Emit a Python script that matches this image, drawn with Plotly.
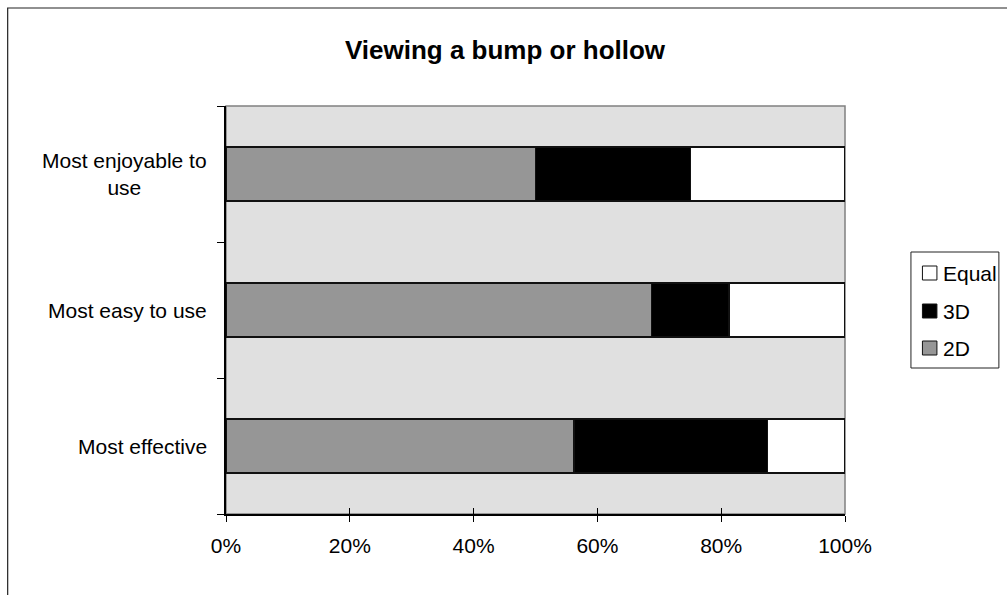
import plotly.graph_objects as go

# Survey results (percent of respondents)
categories = ["Most effective", "Most easy to use", "Most enjoyable to use"]
category_labels = ["Most effective", "Most easy to use", "Most enjoyable to<br>use"]
series_names = ["2D", "3D", "Equal"]
values_2d = [56.25, 68.75, 50.0]
values_3d = [31.25, 12.5, 25.0]
values_equal = [12.5, 18.75, 25.0]
x_ticks = [0, 20, 40, 60, 80, 100]

colors = {"2D": "#969696", "3D": "#000000", "Equal": "#FFFFFF"}
FONT = "Liberation Sans, Arial, sans-serif"

W, H = 1007, 595
L, R, T, B = 225.5, 845, 106, 514   # plot area in pixels


def px(x):
    return (x - L) / (R - L)


def py(y):
    return (B - y) / (B - T)


fig = go.Figure()
for name, vals in zip(series_names, [values_2d, values_3d, values_equal]):
    fig.add_trace(go.Bar(
        y=categories, x=vals, name=name, orientation="h",
        marker=dict(color=colors[name], line=dict(color="#111111", width=1.5)),
        showlegend=False, hoverinfo="skip",
    ))

# second x axis carries the inward half of the crossing tick marks
fig.add_trace(go.Scatter(x=[0, 100], y=[categories[0], categories[0]], xaxis="x2",
                         mode="markers", marker=dict(opacity=0), showlegend=False,
                         hoverinfo="skip"))

fig.update_layout(
    width=W, height=H,
    margin=dict(l=L, r=W - R, t=T, b=H - B, pad=0),
    paper_bgcolor="white",
    plot_bgcolor="#E0E0E0",
    barmode="stack",
    bargap=0.605,
    font=dict(family=FONT, size=21, color="black"),
    title=dict(text="<b>Viewing a bump or hollow</b>", x=505 / W, xref="container",
               xanchor="center", y=1 - 50 / H, yref="container", yanchor="middle",
               font=dict(family=FONT, size=26, color="black")),
    xaxis=dict(range=[0, 100], tickvals=x_ticks, ticktext=[f"{v}%" for v in x_ticks],
               ticks="outside", ticklen=6, tickcolor="black", tickwidth=1,
               ticklabelstandoff=6,
               showline=True, linecolor="black", linewidth=1.5,
               showgrid=False, zeroline=False, fixedrange=True,
               tickfont=dict(family=FONT, size=21, color="black")),
    xaxis2=dict(range=[0, 100], overlaying="x", anchor="y", side="bottom",
                tickvals=x_ticks, ticks="inside", ticklen=6, tickcolor="black",
                tickwidth=1, showticklabels=False, showline=False,
                showgrid=False, zeroline=False, fixedrange=True),
    yaxis=dict(type="category", categoryorder="array", categoryarray=categories,
               range=[-0.5, 2.5], tickson="boundaries", ticks="outside", ticklen=7,
               tickcolor="black", tickwidth=1, showticklabels=False,
               showline=True, linecolor="black", linewidth=1.5,
               showgrid=False, zeroline=False, fixedrange=True),
)

# plot-area border (grey) on the top and right
fig.add_shape(type="rect", xref="paper", yref="paper", x0=0, x1=1, y0=0, y1=1,
              line=dict(color="#808080", width=1.5), fillcolor="rgba(0,0,0,0)",
              layer="between")

# category labels, centred multi-line text right-aligned against the axis
for cat, lab in zip(categories, category_labels):
    fig.add_annotation(x=px(208), xref="paper", y=cat, yref="y", text=lab,
                       showarrow=False, xanchor="right", yanchor="middle",
                       align="center", font=dict(family=FONT, size=21, color="black"))

# outer chart frame
fig.add_shape(type="rect", xref="paper", yref="paper",
              x0=px(7), x1=px(1030), y0=py(620), y1=py(8),
              line=dict(color="#222222", width=1.2), fillcolor="rgba(0,0,0,0)")

# legend box
fig.add_shape(type="rect", xref="paper", yref="paper",
              x0=px(911), x1=px(999), y0=py(368), y1=py(252),
              line=dict(color="#222222", width=1), fillcolor="white")
legend_rows = [("Equal", 273), ("3D", 311), ("2D", 348)]
for name, yc in legend_rows:
    fig.add_shape(type="rect", xref="paper", yref="paper",
                  x0=px(922.5), x1=px(937), y0=py(yc + 7), y1=py(yc - 7),
                  line=dict(color="#111111", width=1), fillcolor=colors[name])
    fig.add_annotation(x=px(941), xref="paper", y=py(yc), yref="paper", text=name,
                       showarrow=False, xanchor="left", yanchor="middle",
                       font=dict(family=FONT, size=21, color="black"))

fig.write_html("out.html")
